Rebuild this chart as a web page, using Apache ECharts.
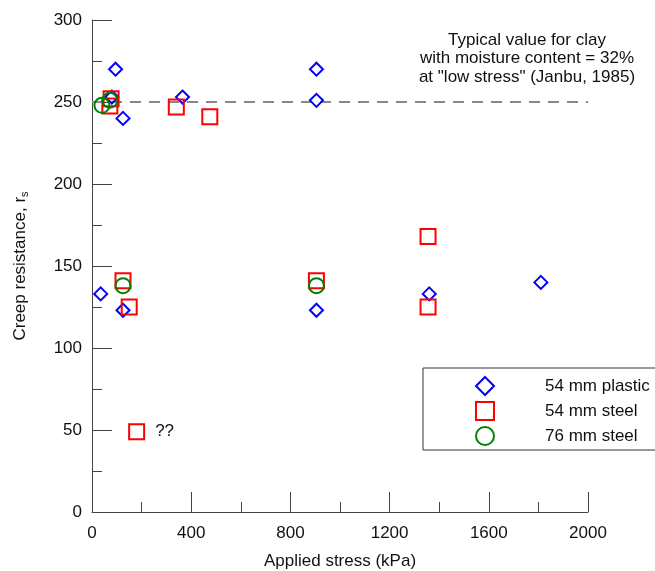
<!DOCTYPE html>
<html>
<head>
<meta charset="utf-8">
<script src="https://cdn.jsdelivr.net/npm/echarts@6/dist/echarts.min.js"></script>
<style>
html,body{margin:0;padding:0;background:#fff;}
#chart{width:655px;height:571px;}
</style>
</head>
<body>
<div id="chart"></div>
<script>
// ---- data ----
var seriesNames = ['54 mm plastic', '54 mm steel', '76 mm steel'];
var plasticStress = [95, 80, 125, 365, 905, 905, 35, 125, 905, 1360, 1810];
var plasticRs     = [270, 253, 240, 253, 270, 251, 133, 123, 123, 133, 140];
var steel54Stress = [77, 72, 340, 475, 125, 150, 905, 1355, 1355, 180];
var steel54Rs     = [252, 247.5, 247, 241, 141, 125, 141, 168, 125, 49];
var steel76Stress = [40, 72, 125, 905];
var steel76Rs     = [248, 251, 138, 138];
var typicalStress = [0, 2000];
var typicalRs     = [250, 250];
var xTicks = [0, 400, 800, 1200, 1600, 2000];
var yTicks = [0, 50, 100, 150, 200, 250, 300];
var annotationLines = ['Typical value for clay', 'with moisture content = 32%', 'at "low stress" (Janbu, 1985)'];
var questionLabel = '??';

function pairs(xs, ys) { return xs.map(function (x, i) { return [x, ys[i]]; }); }

var font = 'Liberation Sans, Arial, Helvetica, sans-serif';
var fs = 17;
var axisColor = '#444';

var steel54Data = pairs(steel54Stress, steel54Rs).map(function (p, i) {
  if (i === steel54Stress.length - 1) {
    return { value: p, label: { show: true, formatter: questionLabel, position: 'right', distance: 10,
      color: '#111', fontSize: fs, fontFamily: font } };
  }
  return p;
});

var chart = echarts.init(document.getElementById('chart'), null, { renderer: 'canvas' });
var option = {
  backgroundColor: '#fff',
  animation: false,
  grid: { left: 92, right: 67, top: 20, bottom: 59, containLabel: false, outerBoundsMode: 'none' },
  xAxis: {
    type: 'value', min: xTicks[0], max: xTicks[xTicks.length - 1], interval: 400,
    name: 'Applied stress (kPa)', nameLocation: 'middle', nameGap: 41,
    nameTextStyle: { fontSize: fs, color: '#111', fontFamily: font },
    axisLine: { show: true, lineStyle: { color: axisColor, width: 1 } },
    axisTick: { show: true, inside: true, length: 20, lineStyle: { color: axisColor } },
    minorTick: { show: true, splitNumber: 2, length: 10, lineStyle: { color: axisColor } },
    axisLabel: { fontSize: fs, color: '#111', fontFamily: font, margin: 13,
      formatter: function (v) { return String(v); } },
    splitLine: { show: false }
  },
  yAxis: {
    type: 'value', min: yTicks[0], max: yTicks[yTicks.length - 1], interval: 50,
    name: '{a|Creep resistance, r}{s|s}', nameLocation: 'middle', nameGap: 62, nameRotate: 90,
    nameTextStyle: { fontSize: fs, color: '#111', fontFamily: font,
      rich: { a: { fontSize: fs, color: '#111', fontFamily: font },
              s: { fontSize: 11, color: '#111', fontFamily: font, padding: [9, 0, 0, 0] } } },
    axisLine: { show: true, lineStyle: { color: axisColor, width: 1 } },
    axisTick: { show: true, inside: true, length: 20, lineStyle: { color: axisColor } },
    minorTick: { show: true, splitNumber: 2, length: 10, lineStyle: { color: axisColor } },
    axisLabel: { fontSize: fs, color: '#111', fontFamily: font, margin: 10,
      formatter: function (v) { return String(v); } },
    splitLine: { show: false }
  },
  legend: {
    orient: 'vertical', left: 423, top: 368,
    data: seriesNames,
    itemWidth: 18, itemHeight: 18, itemGap: 5,
    padding: [8, 60, 4, 52],
    borderColor: '#333', borderWidth: 1,
    textStyle: { fontSize: fs, color: '#111', fontFamily: font, padding: [0, 0, 0, 46] }
  },
  graphic: [{
    type: 'text', x: 527, y: 31,
    style: { text: annotationLines.join('\n'), align: 'center', verticalAlign: 'top',
      fontSize: fs, lineHeight: 18.5, fill: '#111', fontFamily: font },
    z: 10
  }],
  series: [
    {
      name: 'typical', type: 'line', data: pairs(typicalStress, typicalRs), symbol: 'none',
      lineStyle: { color: '#888', width: 2, type: [11, 8] }, z: 1, silent: true
    },
    {
      name: seriesNames[0], type: 'scatter', data: pairs(plasticStress, plasticRs),
      symbol: 'diamond', symbolSize: 13,
      itemStyle: { color: 'rgba(0,0,0,0)', borderColor: '#0000ff', borderWidth: 2, opacity: 1 }, z: 3
    },
    {
      name: seriesNames[1], type: 'scatter', data: steel54Data,
      symbol: 'rect', symbolSize: 15,
      itemStyle: { color: 'rgba(0,0,0,0)', borderColor: '#ff0000', borderWidth: 2, opacity: 1 }, z: 4
    },
    {
      name: seriesNames[2], type: 'scatter', data: pairs(steel76Stress, steel76Rs),
      symbol: 'circle', symbolSize: 15,
      itemStyle: { color: 'rgba(0,0,0,0)', borderColor: '#008000', borderWidth: 2, opacity: 1 }, z: 5
    }
  ]
};
chart.setOption(option);
</script>
</body>
</html>
